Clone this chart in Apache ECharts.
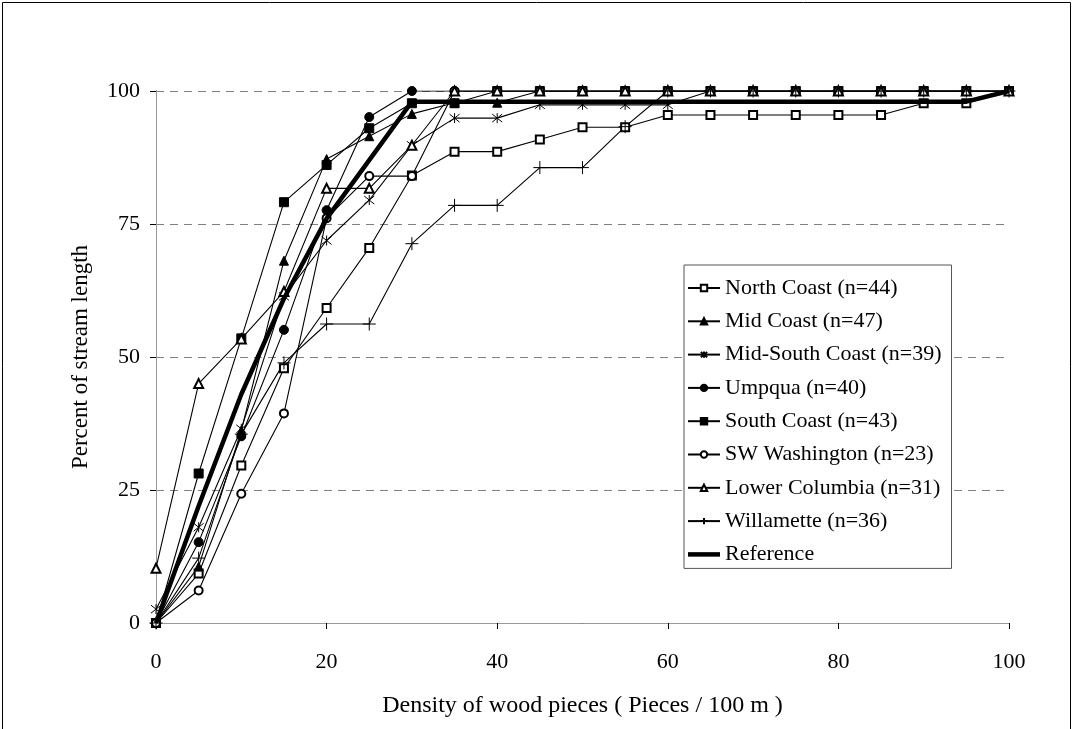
<!DOCTYPE html>
<html>
<head>
<meta charset="utf-8">
<script src="https://cdn.jsdelivr.net/npm/echarts@6/dist/echarts.min.js"></script>
<style>
  html, body { margin: 0; padding: 0; background: #fff; }
  #chart { width: 1073px; height: 729px; }
</style>
</head>
<body>
<div id="chart"></div>
<script>
// Density classes (pieces / 100 m)
const densities = [0, 5, 10, 15, 20, 25, 30, 35, 40, 45, 50, 55, 60, 65, 70, 75, 80, 85, 90, 95, 100];

// Cumulative percent of stream length, one value per density class
const northCoast   = [0, 9.3, 29.6, 47.9, 59.2, 70.5, 84.1, 88.6, 88.6, 90.9, 93.2, 93.2, 95.5, 95.5, 95.5, 95.5, 95.5, 95.5, 97.7, 97.7, 100];
const midCoast     = [0, 10.6, 36.2, 68.1, 87.2, 91.5, 95.7, 97.8, 97.8, 100, 100, 100, 100, 100, 100, 100, 100, 100, 100, 100, 100];
const midSouth     = [2.6, 18.0, 36.5, 61.4, 71.9, 79.5, 89.8, 94.9, 94.9, 97.4, 97.4, 97.4, 97.4, 100, 100, 100, 100, 100, 100, 100, 100];
const umpqua       = [0, 15.2, 35.1, 55.1, 77.6, 95.1, 100, 100, 100, 100, 100, 100, 100, 100, 100, 100, 100, 100, 100, 100, 100];
const southCoast   = [0, 28.1, 53.5, 79.1, 86.1, 93.0, 97.7, 97.7, 100, 100, 100, 100, 100, 100, 100, 100, 100, 100, 100, 100, 100];
const swWashington = [0, 6.1, 24.3, 39.4, 76.1, 84.0, 84.0, 100, 100, 100, 100, 100, 100, 100, 100, 100, 100, 100, 100, 100, 100];
const lowerColumbia= [10.3, 45.0, 53.4, 62.3, 81.7, 81.7, 89.8, 100, 100, 100, 100, 100, 100, 100, 100, 100, 100, 100, 100, 100, 100];
const willamette   = [0, 12.2, 35.5, 48.9, 56.2, 56.2, 71.3, 78.5, 78.5, 85.6, 85.6, 93.3, 100, 100, 100, 100, 100, 100, 100, 100, 100];
const reference    = [0, 22, 43, 61, 76, 87, 98, 98, 98, 98, 98, 98, 98, 98, 98, 98, 98, 98, 98, 98, 100];

// Axis ticks
const xTicks = [0, 20, 40, 60, 80, 100];
const yTicks = [0, 25, 50, 75, 100];

const seriesNames = [
  'North Coast (n=44)', 'Mid Coast (n=47)', 'Mid-South Coast (n=39)', 'Umpqua (n=40)',
  'South Coast (n=43)', 'SW Washington (n=23)', 'Lower Columbia (n=31)', 'Willamette (n=36)', 'Reference'
];

const FONT = 'Liberation Serif';
const ASTERISK = 'path://M1,1L9,9M9,1L1,9M5,0L5,10';
const PLUS = 'path://M0,5L10,5M5,0L5,10';
const THICK_BAR = 'path://M0,0L32,0L32,4.5L0,4.5Z';

function pts(vals) { return densities.map((d, i) => [d, vals[i]]); }

function regionSeries(name, vals, symbol, size) {
  return {
    name: name,
    type: 'line',
    data: pts(vals),
    symbol: symbol,
    symbolSize: size,
    showAllSymbol: true,
    lineStyle: { color: '#000', width: 1.1 },
    itemStyle: { color: '#000', borderColor: '#000', borderWidth: 1 },
    emphasis: { disabled: true },
    z: 3
  };
}

const chart = echarts.init(document.getElementById('chart'), null, { renderer: 'canvas' });

const option = {
  animation: false,
  backgroundColor: '#fff',
  textStyle: { fontFamily: FONT, color: '#000' },
  grid: { left: 156, top: 91, width: 853, height: 532 },
  xAxis: [{
    type: 'value', min: 0, max: 100, interval: 20,
    name: 'Density of wood pieces ( Pieces / 100 m )',
    nameLocation: 'middle', nameGap: 71,
    nameTextStyle: { fontFamily: FONT, fontSize: 24, color: '#000' },
    axisLine: { lineStyle: { color: '#000', width: 1 } },
    axisTick: { show: true, length: 6, lineStyle: { color: '#000' } },
    axisLabel: { fontFamily: FONT, fontSize: 22, color: '#000', margin: 28,
      formatter: v => xTicks.includes(v) ? String(v) : '' },
    splitLine: { show: false }
  }, {
    type: 'value', min: 0, max: 100, position: 'top',
    axisLine: { lineStyle: { color: '#999', width: 1 } },
    axisTick: { show: false }, axisLabel: { show: false }, splitLine: { show: false }
  }],
  yAxis: [{
    type: 'value', min: 0, max: 100, interval: 25,
    name: 'Percent of stream length',
    nameLocation: 'middle', nameGap: 64, nameRotate: 90,
    nameTextStyle: { fontFamily: FONT, fontSize: 23, color: '#000' },
    axisLine: { show: true, lineStyle: { color: '#000', width: 1 } },
    axisTick: { show: true, length: 6, lineStyle: { color: '#000' } },
    axisLabel: { fontFamily: FONT, fontSize: 22, color: '#000', margin: 16,
      formatter: v => yTicks.includes(v) ? String(v) : '' },
    splitLine: { show: true, lineStyle: { color: '#808080', width: 1, type: [8, 6] } }
  }, {
    type: 'value', min: 0, max: 100, position: 'right',
    axisLine: { show: true, lineStyle: { color: '#999', width: 1 } },
    axisTick: { show: false }, axisLabel: { show: false }, splitLine: { show: false }
  }],
  legend: {
    orient: 'vertical',
    left: 684, top: 265,
    padding: [12, 10, 3, 3],
    itemWidth: 32, itemHeight: 8, itemGap: 11.3,
    backgroundColor: '#fff',
    borderColor: '#555', borderWidth: 1, borderRadius: 0,
    textStyle: { fontFamily: FONT, fontSize: 22, color: '#000' },
    data: seriesNames.slice(0, 8).map(n => ({ name: n }))
      .concat([{ name: seriesNames[8], icon: THICK_BAR, itemStyle: { color: '#000' } }])
  },
  graphic: [{
    type: 'rect', silent: true, z: -1,
    shape: { x: 2.5, y: 2.5, width: 1068, height: 760 },
    style: { fill: 'none', stroke: '#000', lineWidth: 1 }
  }],
  series: [
    regionSeries(seriesNames[0], northCoast, 'emptyRect', 8),
    regionSeries(seriesNames[1], midCoast, 'triangle', 9),
    regionSeries(seriesNames[2], midSouth, ASTERISK, 10),
    regionSeries(seriesNames[3], umpqua, 'circle', 9),
    regionSeries(seriesNames[4], southCoast, 'rect', 9),
    regionSeries(seriesNames[5], swWashington, 'emptyCircle', 8),
    regionSeries(seriesNames[6], lowerColumbia, 'emptyTriangle', 9),
    regionSeries(seriesNames[7], willamette, PLUS, 13),
    {
      name: seriesNames[8], type: 'line', data: pts(reference),
      symbol: 'none', showSymbol: false,
      lineStyle: { color: '#000', width: 4.5 },
      itemStyle: { color: '#000' },
      emphasis: { disabled: true },
      z: 4
    }
  ]
};

chart.setOption(option);
</script>
</body>
</html>
